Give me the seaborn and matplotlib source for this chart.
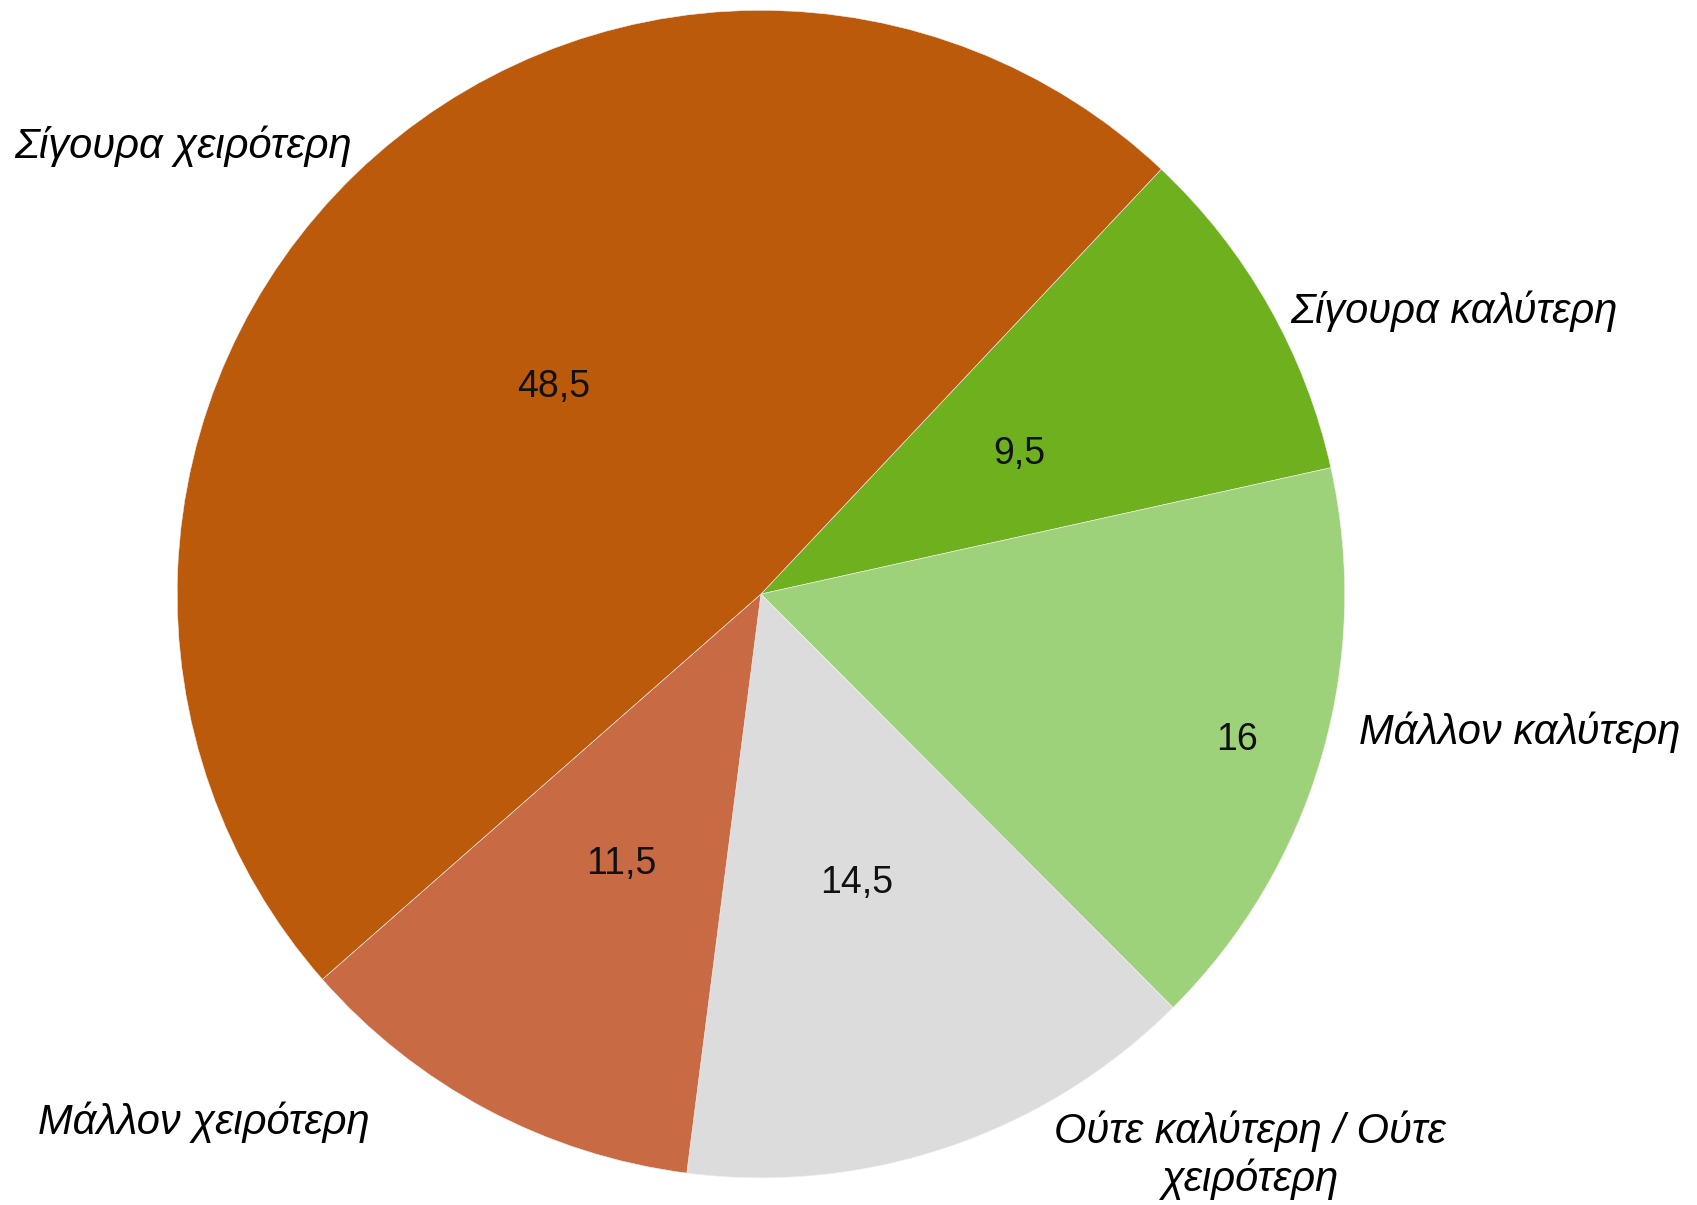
import seaborn as sns
import matplotlib.pyplot as plt

# data
categorias = ['Σίγουρα καλύτερη', 'Μάλλον καλύτερη', 'Ούτε καλύτερη / Ούτε\nχειρότερη',
              'Μάλλον χειρότερη', 'Σίγουρα χειρότερη']
valores = [9.5, 16, 14.5, 11.5, 48.5]
cores = ['#6FB01E', '#9DD27A', '#DCDCDC', '#C86A43', '#BC5A0C']

# posições dos rótulos (unidades da pizza, raio = 1)
pos_rotulos = [(1.187, 0.485), (1.30, -0.237), (0.837, -0.961), (-0.954, -0.904), (-0.99, 0.767)]

sns.set_theme(style='white')
plt.rcParams['font.family'] = ['Liberation Sans', 'DejaVu Sans']

fig = plt.figure(figsize=(16.97, 12.05), dpi=100)
ax = fig.add_axes([0.4484 - 0.344, 0.507 - 0.4846, 0.688, 0.9692])

def fmt(p):
    return f'{p:g}'.replace('.', ',')

wedges, textos, autotextos = ax.pie(
    valores, colors=cores, startangle=46.7, counterclock=False,
    autopct=fmt, pctdistance=0.51, labels=categorias,
    wedgeprops=dict(edgecolor='#f2f2f2', linewidth=0.4),
    textprops=dict(fontsize=27, color='black'))

for t, (x, y) in zip(textos, pos_rotulos):
    t.set_position((x, y))
    t.set_ha('center')
    t.set_va('center')
    t.set_multialignment('center')
    t.set_fontstyle('italic')
    t.set_fontsize(30)

# o 16 fica mais para fora
x, y = autotextos[1].get_position()
autotextos[1].set_position((x * 0.85 / 0.51, y * 0.85 / 0.51))
for t in autotextos:
    t.set_color('#111111')
    x, y = t.get_position()
    t.set_position((x, y - 0.012))

ax.set_xlim(-1, 1)
ax.set_ylim(-1, 1)
ax.set_aspect('equal')
ax.axis('off')

plt.savefig('out.png', dpi=100)
